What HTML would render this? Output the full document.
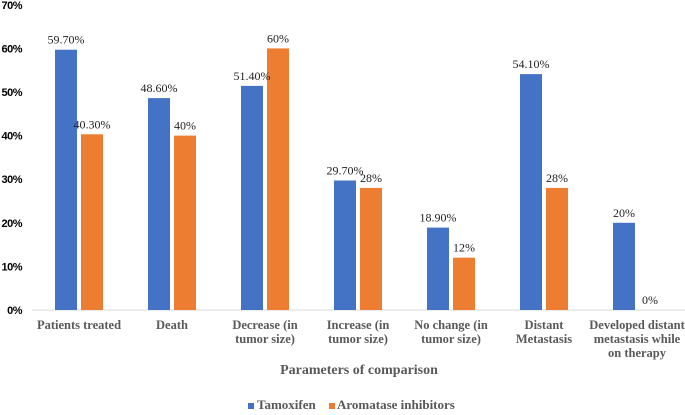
<!DOCTYPE html>
<html><head><meta charset="utf-8"><style>
body{margin:0;background:#fff;width:685px;height:410px;overflow:hidden}
svg text{font-family:"Liberation Serif",serif}
</style></head><body>
<svg id="c" width="685" height="410"></svg>
<script>
const categories=[["Patients treated"],["Death"],["Decrease (in","tumor size)"],["Increase (in","tumor size)"],["No change (in","tumor size)"],["Distant","Metastasis"],["Developed distant","metastasis while","on therapy"]];
const tamoxifen=[59.7,48.6,51.4,29.7,18.9,54.1,20];
const aromatase=[40.3,40,60,28,12,28,0];
const tamoxLabels=["59.70%","48.60%","51.40%","29.70%","18.90%","54.10%","20%"];
const aromLabels=["40.30%","40%","60%","28%","12%","28%","0%"];
const yTicks=[0,10,20,30,40,50,60,70];
const svg=document.getElementById('c');const NS='http://www.w3.org/2000/svg';
function mk(t,a,p){const e=document.createElementNS(NS,t);for(const k in a)e.setAttribute(k,a[k]);(p||svg).appendChild(e);return e;}
const y0=310,pp=4.36;const y=v=>y0-v*pp;
const x0=32.5,step=93;const cx=i=>x0+step*(i+0.5);
yTicks.forEach(t=>{const e=mk('text',{x:22,y:y(t)+4,'text-anchor':'end','font-size':11,'font-weight':'bold',fill:'#000',style:'font-family:"Liberation Sans",sans-serif;letter-spacing:-0.5px'});e.textContent=t+'%';

});
const ax=mk('line',{x1:32,x2:685,y1:y0,y2:y0,stroke:'#d9d9d9','stroke-width':1});


categories.forEach((c,i)=>{
const bx=cx(i)-24;
const b1=mk('rect',{x:bx,y:y(tamoxifen[i]),width:22,height:tamoxifen[i]*pp,fill:'#4472c4'});


const b2=mk('rect',{x:bx+26,y:y(aromatase[i]),width:22,height:aromatase[i]*pp,fill:'#ed7d31'});


const l1=mk('text',{x:bx+11,y:y(tamoxifen[i])-6,'text-anchor':'middle','font-size':12,fill:'#222'});l1.textContent=tamoxLabels[i];


const l2=mk('text',{x:bx+37,y:y(aromatase[i])-6,'text-anchor':'middle','font-size':12,fill:'#222'});l2.textContent=aromLabels[i];


c.forEach((s,j)=>{const t=mk('text',{x:cx(i),y:329+j*14,'text-anchor':'middle','font-size':12.5,'font-weight':'bold',fill:'#595959'});t.textContent=s;

});
});
const tt=mk('text',{x:359,y:374,'text-anchor':'middle','font-size':14,'font-weight':'bold',fill:'#595959'});tt.textContent='Parameters of comparison';


const g=mk('g',{});


mk('rect',{x:248,y:403,width:6,height:6,fill:'#4472c4'},g);
const lt1=mk('text',{x:257,y:409,'font-size':13,'font-weight':'bold',fill:'#595959'},g);lt1.textContent='Tamoxifen';
mk('rect',{x:329,y:403,width:6,height:6,fill:'#ed7d31'},g);
const lt2=mk('text',{x:337,y:409,'font-size':13,'font-weight':'bold',fill:'#595959'},g);lt2.textContent='Aromatase inhibitors';
</script>
</body></html>
